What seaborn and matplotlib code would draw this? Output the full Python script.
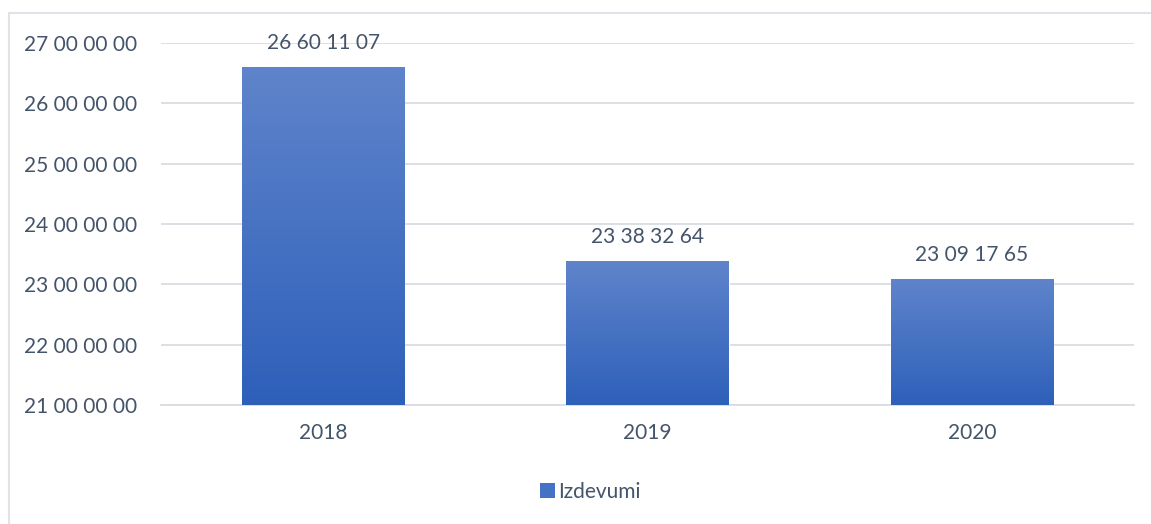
import matplotlib
matplotlib.use("Agg")
import matplotlib.pyplot as plt
import seaborn as sns
import numpy as np
import pandas as pd
from matplotlib.patches import Patch
from matplotlib.lines import Line2D

# data
years = ["2018", "2019", "2020"]
izdevumi = [26601107, 23383264, 23091765]
y_ticks = [21000000, 22000000, 23000000, 24000000, 25000000, 26000000, 27000000]

TEXT = "#44546A"
GRID = "#D9DCE1"
TOP_COL = "#5F84CB"
BOT_COL = "#2E60BA"
FS = 15

sns.set_theme(style="white")
plt.rcParams['font.family'] = ['Lato', 'DejaVu Sans']


def fmt(v):
    # groups of two digits, as in the source chart
    s = str(int(round(v)))
    parts = []
    while len(s) > 2:
        parts.insert(0, s[-2:])
        s = s[:-2]
    if s:
        parts.insert(0, s)
    return " ".join(parts)


df = pd.DataFrame({"year": years, "value": izdevumi})

fig = plt.figure(figsize=(11.51, 5.24), dpi=100)
ax = fig.add_axes([0.1399, 0.2271, 0.9852 - 0.1399, 0.918 - 0.2271])

sns.barplot(data=df, x="year", y="value", color=BOT_COL, width=0.5,
            saturation=1, ax=ax, zorder=2)

# vertical gradient inside each bar
grad = np.linspace(0, 1, 256).reshape(-1, 1)
cmap = matplotlib.colors.LinearSegmentedColormap.from_list("g", [BOT_COL, TOP_COL])
for bar in ax.patches:
    x0, y0 = bar.get_x(), bar.get_y()
    w, h = bar.get_width(), bar.get_height()
    bottom = max(y0, y_ticks[0])
    im = ax.imshow(grad, extent=[x0, x0 + w, bottom, y0 + h], origin="lower",
                   cmap=cmap, aspect="auto", zorder=3)
    im.set_clip_path(bar)
ax.set_xlim(-0.5, len(years) - 0.5)
ax.set_ylim(y_ticks[0], y_ticks[-1])

for i, v in enumerate(izdevumi):
    ax.annotate(fmt(v), (i, v), xytext=(0, 10), textcoords="offset points",
                ha="center", va="bottom", fontsize=FS, color=TEXT)

ax.set_yticks(y_ticks)
ax.set_yticklabels([fmt(t) for t in y_ticks])
ax.yaxis.grid(True, color=GRID, linewidth=1.3, zorder=0)
ax.set_axisbelow(True)
for s in ["left", "right", "top"]:
    ax.spines[s].set_visible(False)
ax.spines["bottom"].set_color(GRID)
ax.spines["bottom"].set_linewidth(1.3)
ax.tick_params(axis="both", length=0, labelsize=FS, labelcolor=TEXT)
ax.tick_params(axis="y", pad=17)
ax.tick_params(axis="x", pad=13)
ax.set_xlabel("")
ax.set_ylabel("")

handle = Patch(facecolor="#4472C4", edgecolor="none")
fig.legend([handle], ["Izdevumi"], loc="center", bbox_to_anchor=(0.513, 0.062),
           frameon=False, fontsize=FS, handlelength=0.7, handleheight=0.7,
           handletextpad=0.15, labelcolor=TEXT)

# chart-area border
fig.add_artist(Line2D([9 / 1151, 1.0], [1 - 13 / 524] * 2, color="#E0E3E8",
                      linewidth=1.5, transform=fig.transFigure))
fig.add_artist(Line2D([9 / 1151] * 2, [0, 1 - 13 / 524], color="#E0E3E8",
                      linewidth=1.5, transform=fig.transFigure))

fig.savefig("out.png", dpi=100)
